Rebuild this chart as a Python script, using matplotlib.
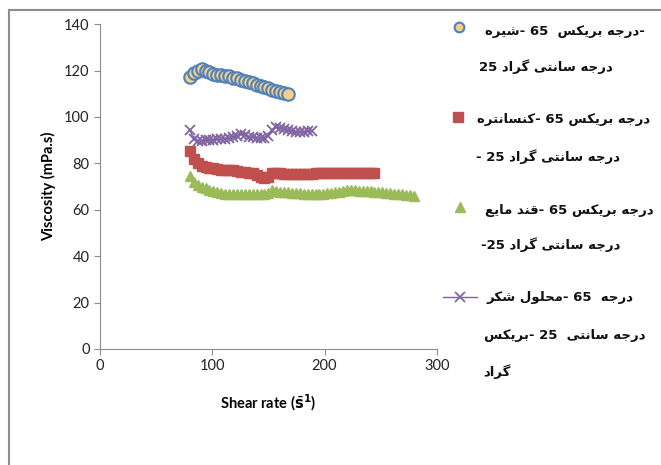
import re
import matplotlib
matplotlib.use("Agg")
import matplotlib.pyplot as plt
from matplotlib.lines import Line2D

# Shear rate readings (1/s), shared by all four samples
shear_rate = [80, 83.5, 87, 90.5, 94, 97.5, 101, 104.5, 108, 111.5,
              115, 118.5, 122, 125.5, 129, 132.5, 136, 139.5, 143, 146.5,
              150, 153.5, 157, 160.5, 164, 167.5, 171, 174.5, 178, 181.5,
              185, 188.5, 192, 195.5, 199, 202.5, 206, 209.5, 213, 216.5,
              220, 223.5, 227, 230.5, 234, 237.5, 241, 244.5, 248, 251.5,
              255, 258.5, 262, 265.5, 269, 272.5, 276, 279.5]

# Viscosity (mPa.s) of each sample
syrup = [117.3, 119, 120, 120.5, 120, 119.3, 118.7, 118.3, 118, 117.8,
         117.5, 117, 116.6, 116, 115.5, 115, 114.5, 114, 113.3, 112.8,
         112.3, 111.8, 111.3, 110.7, 110.2, 109.7]
concentrate = [85.5, 82, 80, 79, 78.5, 78, 77.8, 77.5, 77.3, 77.2,
               77, 77, 76.8, 76.5, 76.3, 76, 75.8, 75.2, 74.3, 73.8,
               74.3, 75.7, 76, 75.8, 75.6, 75.5, 75.4, 75.3, 75.3, 75.4,
               75.5, 75.6, 75.8, 75.9, 76, 76, 76, 76, 75.8, 75.7,
               75.8, 75.9, 76, 76, 76, 76, 76, 76]
liquid_sugar = [74.5, 72, 70.5, 69.8, 69.2, 68.5, 68, 67.5, 67.2, 67,
                66.8, 66.8, 66.8, 66.9, 67, 67, 66.8, 66.7, 66.8, 67,
                67.3, 68.5, 68.2, 67.8, 67.6, 67.5, 67.3, 67.2, 67.2, 67,
                66.9, 66.8, 66.8, 66.9, 67, 67.1, 67.3, 67.5, 67.8, 68.2,
                68.5, 68.6, 68.5, 68.3, 68.2, 68.1, 68, 67.8, 67.7, 67.6,
                67.4, 67.2, 67, 66.8, 66.6, 66.4, 66.2, 66]
sugar_solution = [94.5, 90.5, 89.5, 89.8, 90, 90, 90.2, 90.3, 90.5, 90.7,
                  91, 91.3, 92, 92.5, 92.3, 91.5, 91.2, 91, 90.8, 91,
                  92, 94.5, 95.5, 95.3, 95, 94.3, 93.8, 93.5, 93.7, 93.5,
                  93.8, 94]

# Legend labels, one list of wrapped lines per sample (logical order)
labels = [
    ["-درجه بریکس  65 -شیره", "درجه سانتی گراد 25"],
    ["درجه بریکس 65 -کنسانتره", "درجه سانتی گراد 25 -"],
    ["درجه بریکس 65 -قند مایع", "درجه سانتی گراد 25-"],
    ["درجه  65 -محلول شکر", "درجه سانتی  25 -بریکس", "گراد"],
]

# --- minimal Arabic shaping + right-to-left ordering (matplotlib has no bidi)
FORMS = {
    "ا": (0xFE8D, 0xFE8E), "د": (0xFEA9, 0xFEAA), "ر": (0xFEAD, 0xFEAE),
    "و": (0xFEED, 0xFEEE),
    "ب": (0xFE8F, 0xFE90, 0xFE91, 0xFE92), "ت": (0xFE95, 0xFE96, 0xFE97, 0xFE98),
    "ج": (0xFE9D, 0xFE9E, 0xFE9F, 0xFEA0), "ح": (0xFEA1, 0xFEA2, 0xFEA3, 0xFEA4),
    "س": (0xFEB1, 0xFEB2, 0xFEB3, 0xFEB4), "ش": (0xFEB5, 0xFEB6, 0xFEB7, 0xFEB8),
    "ع": (0xFEC9, 0xFECA, 0xFECB, 0xFECC), "ق": (0xFED5, 0xFED6, 0xFED7, 0xFED8),
    "ک": (0xFB8E, 0xFB8F, 0xFB90, 0xFB91), "گ": (0xFB92, 0xFB93, 0xFB94, 0xFB95),
    "ل": (0xFEDD, 0xFEDE, 0xFEDF, 0xFEE0), "م": (0xFEE1, 0xFEE2, 0xFEE3, 0xFEE4),
    "ن": (0xFEE5, 0xFEE6, 0xFEE7, 0xFEE8), "ه": (0xFEE9, 0xFEEA, 0xFEEB, 0xFEEC),
    "ی": (0xFBFC, 0xFBFD, 0xFBFE, 0xFBFF),
}


def shape(word):
    out = ""
    for i, ch in enumerate(word):
        if ch not in FORMS:
            out += ch
            continue
        prev = word[i - 1] if i > 0 else ""
        nxt = word[i + 1] if i < len(word) - 1 else ""
        join_prev = prev in FORMS and len(FORMS[prev]) == 4
        join_next = len(FORMS[ch]) == 4 and nxt in FORMS
        f = FORMS[ch]
        if join_prev and join_next:
            out += chr(f[3])
        elif join_prev:
            out += chr(f[1])
        elif join_next:
            out += chr(f[2])
        else:
            out += chr(f[0])
    return out


def visual(line):
    res = []
    for tok in reversed(line.split(" ")):
        piece = ""
        for run in reversed(re.findall(r"\d+|\D+", tok)):
            piece += run if run.isdigit() else shape(run)[::-1]
        res.append(piece)
    return " ".join(res)


plt.rcParams["font.family"] = ["Lato", "DejaVu Sans"]

fig = plt.figure(figsize=(6.61, 4.65), dpi=100)
ax = fig.add_axes([0.1513, 0.2495, 0.5095, 0.6985])

blue, red, green, purple = "#4F81BD", "#C0504D", "#9BBB59", "#8064A2"

ax.plot(shear_rate[:len(syrup)], syrup, "o", ms=9, mfc="#F3D08A", mec=blue, mew=1.5)
ax.plot(shear_rate[:len(concentrate)], concentrate, "s", ms=6.5, color=red, mec=red)
ax.plot(shear_rate[:len(liquid_sugar)], liquid_sugar, "^", ms=7.5, color=green, mec=green)
ax.plot(shear_rate[:len(sugar_solution)], sugar_solution, "-x", ms=7, mew=1.3,
        lw=1, color=purple)

ax.set_xlim(0, 300)
ax.set_ylim(0, 140)
ax.set_xticks([0, 100, 200, 300])
ax.set_yticks(range(0, 141, 20))
for s in ["top", "right"]:
    ax.spines[s].set_visible(False)
for s in ["left", "bottom"]:
    ax.spines[s].set_color("#8C8C8C")
ax.tick_params(colors="#8C8C8C", labelcolor="#222222", labelsize=10.5, length=4)
ax.set_ylabel("Viscosity (mPa.s)", fontsize=10.5, fontweight="bold", labelpad=6)
ax.set_xlabel(r"Shear rate ($\bar{\mathbf{s}}^{\mathbf{1}}$)", fontsize=10.5,
              fontweight="bold", labelpad=14)

# outer frame (screenshot edge)
W, H = 661, 465
fig.add_artist(Line2D([8.5 / W, 8.5 / W], [0, 1 - 10.5 / H], color="#8C8C8C", lw=1.5))
fig.add_artist(Line2D([8.5 / W, 1], [1 - 10.5 / H, 1 - 10.5 / H], color="#8C8C8C", lw=1.5))


# legend drawn by hand: marker next to the first line of each label
def fx(px):
    return px / W


def fy(py):
    return 1 - py / H


fig.add_artist(Line2D([fx(459)], [fy(27)], marker="o", ms=7, mfc="#F3D08A", mec=blue, mew=1.5))
fig.add_artist(Line2D([fx(458)], [fy(117)], marker="s", ms=6.5, color=red))
fig.add_artist(Line2D([fx(460)], [fy(207)], marker="^", ms=7.5, color=green))
fig.add_artist(Line2D([fx(443), fx(477)], [fy(297), fy(297)], color=purple, lw=1))
fig.add_artist(Line2D([fx(460)], [fy(297)], marker="x", ms=7, mew=1.3, color=purple))

# (x, centre y, alignment) of each wrapped line
text_pos = [
    [(565, 32, "center"), (546, 67, "center")],
    [(564, 120, "center"), (548, 157, "center")],
    [(569, 210, "center"), (551, 245, "center")],
    [(560, 297, "center"), (565, 335, "center"), (483, 372, "left")],
]
for lines, pos in zip(labels, text_pos):
    for line, (px, py, ha) in zip(lines, pos):
        fig.text(fx(px), fy(py), visual(line), ha=ha, va="center",
                 fontsize=9.5, fontweight="bold", family="DejaVu Sans", color="#111111")

fig.savefig("out.png", dpi=100)
